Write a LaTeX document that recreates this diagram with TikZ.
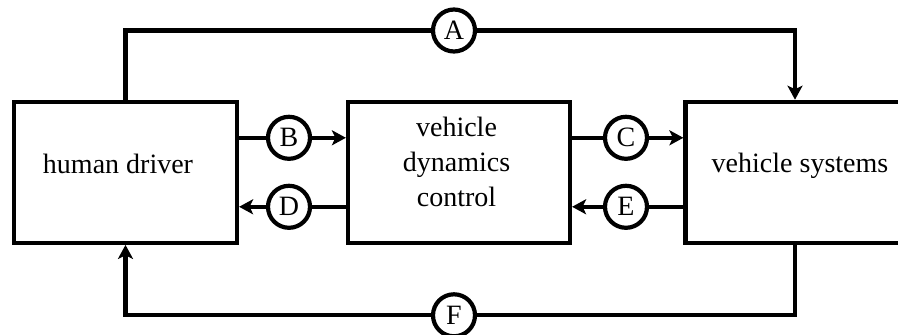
\documentclass[tikz,border=0pt]{standalone}
\usepackage{fontspec}
\setmainfont{Liberation Serif}
\usetikzlibrary{arrows.meta}
\begin{document}
\begin{tikzpicture}[x=1pt,y=1pt,
  every node/.style={font=\fontsize{28}{35.5}\selectfont, inner sep=0pt},
  blockbox/.style={draw, line width=4.2pt, minimum height=141pt},
  sig/.style={draw, circle, line width=4.2pt, minimum size=42pt, fill=white},
  wire/.style={line width=4.2pt},
  arr/.style={wire, -{Stealth[length=14pt,width=15pt,inset=3.5pt]}},
  lbl/.style={anchor=base, align=center}
]
\useasboundingbox (0,0) rectangle (898,335);
% blocks
\node[blockbox, minimum width=223pt] (hd) at (125.5,162.7) {};
\node[blockbox, minimum width=222pt] (vdc) at (459,162.7) {};
\node[blockbox, minimum width=219pt] (vs) at (795,162.7) {};
% block texts
\node[lbl] (hdt) at (118,161) {human driver};
\node[lbl] (vdct) at (456.5,128) {vehicle\\dynamics\\control};
\node[lbl] (vst) at (800,162) {vehicle systems};
% signal circles
\node[sig] (cA) at (454,304.5) {A};
\node[sig] (cB) at (289,197.2) {B};
\node[sig] (cC) at (626,197.2) {C};
\node[sig] (cD) at (289,128.2) {D};
\node[sig] (cE) at (626,128.2) {E};
\node[sig] (cF) at (454,19.7) {F};
% corner coordinates
\coordinate (aR) at (795,304.5);
\coordinate (fR) at (795,19.7);
% A
\draw[wire] (hd.north) |- (cA.west);
\draw[arr] (cA.east) -- (aR) -- (vs.north);
% B
\draw[wire] (hd.east |- cB) -- (cB.west);
\draw[arr] (cB.east) -- (vdc.west |- cB);
% C
\draw[wire] (vdc.east |- cC) -- (cC.west);
\draw[arr] (cC.east) -- (vs.west |- cC);
% D
\draw[wire] (vdc.west |- cD) -- (cD.east);
\draw[arr] (cD.west) -- (hd.east |- cD);
% E
\draw[wire] (vs.west |- cE) -- (cE.east);
\draw[arr] (cE.west) -- (vdc.east |- cE);
% F
\draw[wire] (vs.south) -- (fR) -- (cF.east);
\draw[arr] (cF.west) -| (hd.south);
\end{tikzpicture}
\end{document}
